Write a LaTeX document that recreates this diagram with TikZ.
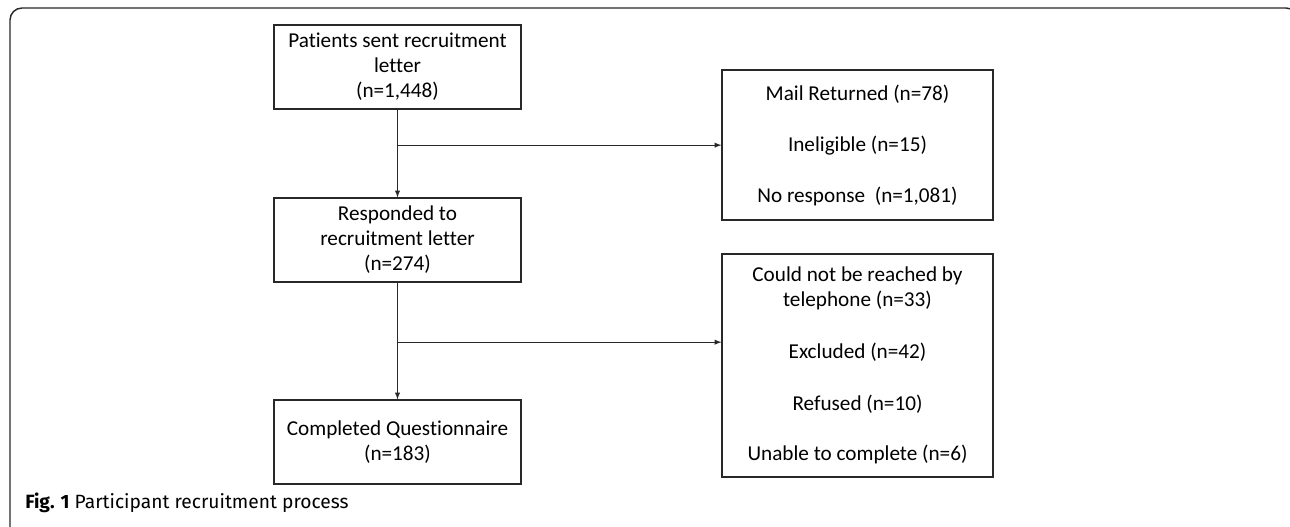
\documentclass[tikz,border=0pt]{standalone}
\usepackage{fontspec}
\setmainfont{Carlito}[Ligatures=NoCommon]
\newfontfamily\captionfont{Fira Sans}[Ligatures=NoCommon]
\usepackage{tikz}
\usetikzlibrary{arrows,calc}
\definecolor{linegray}{RGB}{40,40,40}

\begin{document}
\begin{tikzpicture}[x=0.75pt,y=-0.75pt]
    % Define node styles
    \tikzstyle{stage} = [rectangle, draw=linegray, line width=0.8pt, align=center, inner sep=0pt, minimum width=185.25pt, minimum height=63pt, font=\fontsize{15.9}{18.75}\selectfont]
    \tikzstyle{loss} = [stage, minimum width=203.25pt]
    \tikzstyle{arrow} = [line width=0.8pt, draw=linegray, ->, >=latex]

    % Canvas and frame
    \useasboundingbox (0,0) rectangle (1290,527);
    \clip (0,0) rectangle (1290,527);
    \draw[linegray, line width=1.1pt, rounded corners=9] (10,8) rectangle (1298,560);

    % Main flow
    \node[stage] (sent) at (397.5,67) {Patients sent recruitment\\letter\\(n=1,448)};
    \node[stage] (resp) at (397.5,240) {Responded to\\recruitment letter\\(n=274)};
    \node[stage] (done) at (397.5,442) {Completed Questionnaire\\(n=183)};

    % Losses
    \node[loss, minimum height=112.5pt] (lost1) at (857.5,145) {Mail Returned (n=78)\\[19.5pt]Ineligible (n=15)\\[19.5pt]No response~~(n=1,081)};
    \node[loss, minimum height=167.25pt] (lost2) at (857.5,365.5) {Could not be reached by\\telephone (n=33)\\[20pt]Excluded (n=42)\\[20pt]Refused (n=10)\\[19pt]Unable to complete (n=6)};

    % Branch points
    \coordinate (br1) at ($(sent.south)!0.405!(resp.north)$);
    \coordinate (br2) at ($(resp.south)!0.51!(done.north)$);

    % Arrows
    \draw[arrow] (sent) -- (resp);
    \draw[arrow] (resp) -- (done);
    \draw[arrow] (br1) -- (br1 -| lost1.west);
    \draw[arrow] (br2) -- (br2 -| lost2.west);

    % Caption
    \node[anchor=west, inner sep=0pt, font=\captionfont\fontsize{14.4}{17}\selectfont] (cap) at (25,503) {\textbf{Fig. 1} Participant recruitment process};
\end{tikzpicture}
\end{document}
